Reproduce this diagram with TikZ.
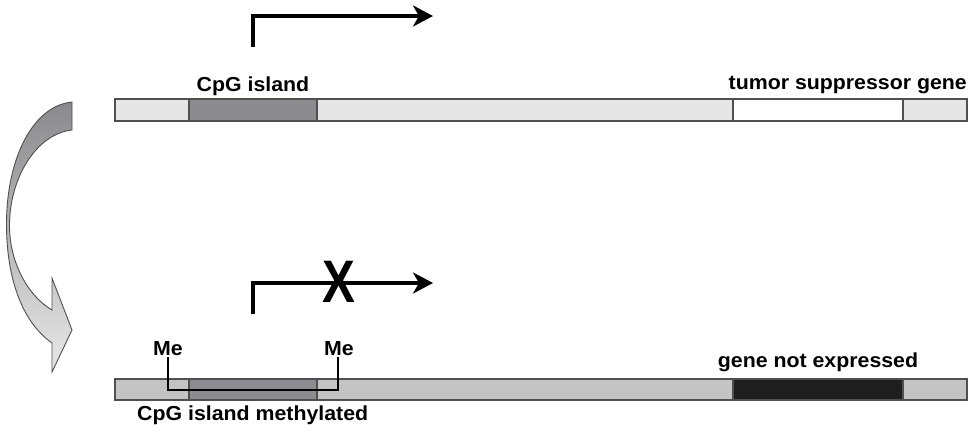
\documentclass[tikz,border=0pt]{standalone}
\usepackage{fontspec}
\setmainfont{Liberation Sans}
\newfontfamily\labfont{Liberation Sans}[FakeStretch=1.05]
\newfontfamily\xfont{Liberation Sans}[FakeStretch=0.82]
\usetikzlibrary{arrows.meta}
\definecolor{barlight}{HTML}{E6E6E6}
\definecolor{barmid}{HTML}{C4C4C4}
\definecolor{cpggray}{HTML}{8C8B90}
\definecolor{edgegray}{HTML}{505050}
\definecolor{genedark}{HTML}{1E1E1E}
\definecolor{arrtop}{HTML}{8A8A8E}
\definecolor{arrmid}{HTML}{C8C8CA}
\definecolor{arrbot}{HTML}{E8E8E8}
\begin{document}
\begin{tikzpicture}[x=1pt,y=-1pt,
  lab/.style={font=\labfont\bfseries\fontsize{20.3}{20.3}\selectfont, inner sep=0pt},
  bar/.style={draw=edgegray, line width=1.2pt},
  prom/.style={line width=3.5pt, line join=miter, -{Stealth[length=20pt,width=21pt,inset=6pt]}},
  bracketline/.style={line width=1.8pt, line join=miter}
]
\useasboundingbox (0,0) rectangle (972,437);

% curved arrow
\shade[top color=arrtop, middle color=arrmid, bottom color=arrbot, draw=edgegray, line width=0.9pt, line join=miter]
  (72,102) -- (72,130)
  .. controls (36,134) and (10,178) .. (9.5,224)
  .. controls (9,262) and (28,296) .. (52,310)
  -- (52,278) -- (72,330) -- (52,372) -- (52,343)
  .. controls (22,322) and (6.5,278) .. (6.5,224)
  .. controls (6.5,160) and (32,106) .. (72,102) -- cycle;

% top bar
\draw[bar, fill=barlight] (115,99) rectangle (967,121);
\draw[bar, fill=cpggray] (189,99) rectangle (317,121);
\draw[bar, fill=white] (733,99) rectangle (903,121);

% bottom bar
\draw[bar, fill=barmid] (115,379) rectangle (967,400);
\draw[bar, fill=cpggray] (189,379) rectangle (317,400);
\draw[bar, fill=genedark] (733,379) rectangle (903,400);

% top promoter arrow
\coordinate (p1s) at (253,47);
\coordinate (p1c) at (253,16);
\coordinate (p1e) at (433,16);
\draw[prom] (p1s) -- (p1c) -- (p1e);

% bottom promoter arrow
\coordinate (p2s) at (253,314);
\coordinate (p2c) at (253,283);
\coordinate (p2e) at (433,283);
\draw[prom] (p2s) -- (p2c) -- (p2e);
\node[inner sep=0pt, font=\xfont\bfseries\fontsize{60}{60}\selectfont] (xmark) at (339,282) {X};

% Me brackets
\coordinate (m1) at (168,357);
\coordinate (m2) at (168,390);
\coordinate (m3) at (338,390);
\coordinate (m4) at (338,357);
\draw[bracketline] (m1) -- (m2) -- (m3) -- (m4);

% labels
\node[lab, anchor=base] (cpg) at (253,91) {CpG island};
\node[lab, anchor=base east] (tsg) at (967,89) {tumor suppressor gene};
\node[lab, anchor=base] (me1) at (168,355) {Me};
\node[lab, anchor=base] (me2) at (339,355) {Me};
\node[lab, anchor=base west] (cpgm) at (137,420) {CpG island methylated};
\node[lab, anchor=base] (gne) at (818,367) {gene not expressed};
\end{tikzpicture}
\end{document}
